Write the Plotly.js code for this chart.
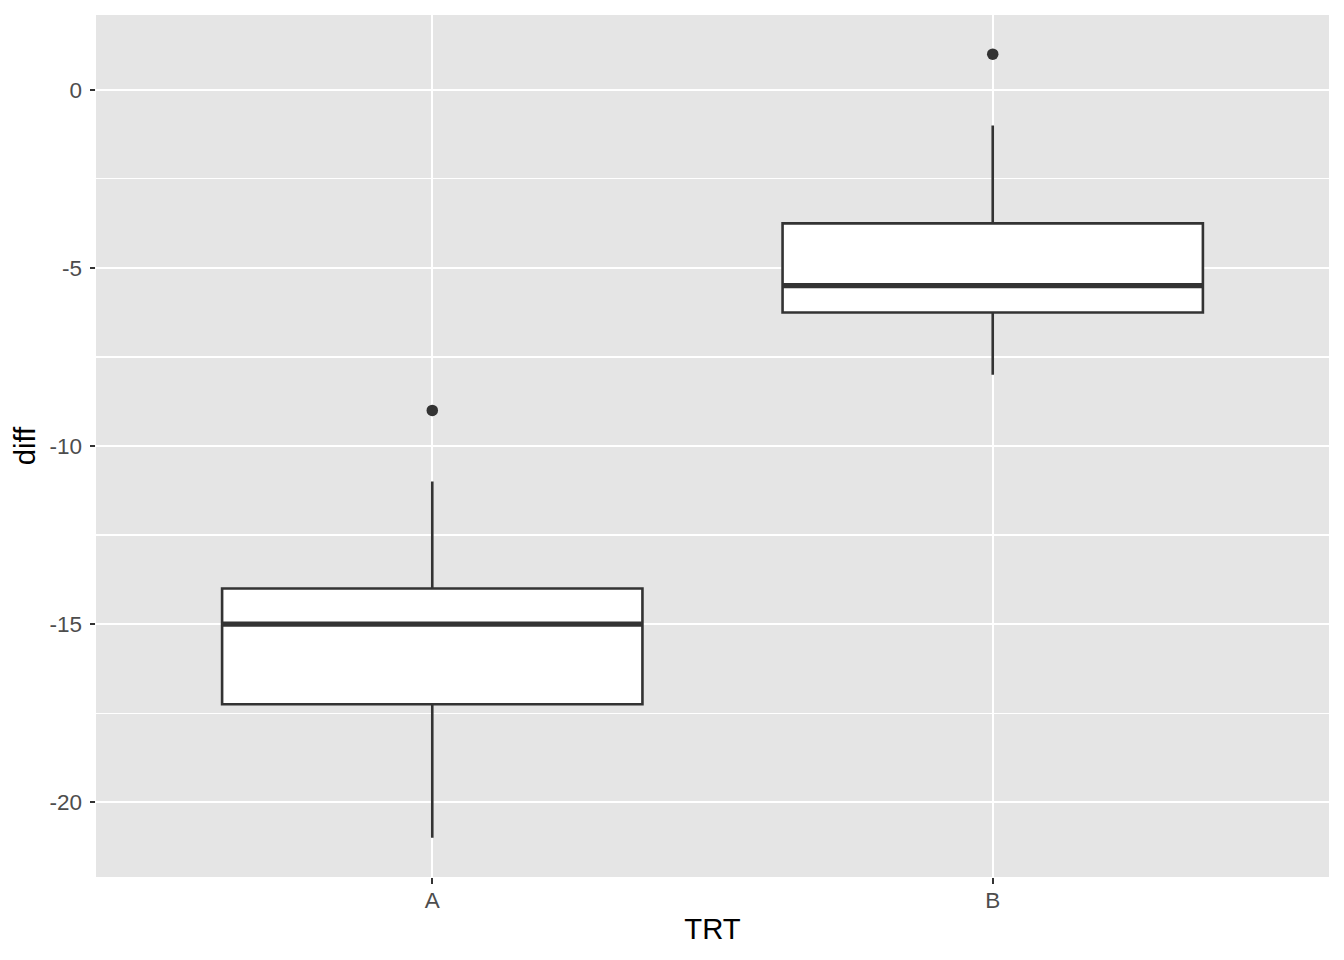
<!DOCTYPE html>
<html>
<head>
<meta charset="utf-8">
<script src="https://cdn.plot.ly/plotly-3.0.1.min.js"></script>
<style>html,body{margin:0;padding:0;background:#fff;}#chart{width:1344px;height:960px;}</style>
</head>
<body>
<div id="chart"></div>
<script>
// Data
const categories = ["A", "B"];
const lowerWhisker = [-21, -8];
const q1 = [-17.25, -6.25];
const median = [-15, -5.5];
const q3 = [-14, -3.75];
const upperWhisker = [-11, -1];
const outliers = [[-9], [1]];
const yTickVals = [0, -5, -10, -15, -20];
const yTickText = ["0", "-5", "-10", "-15", "-20"];
const yMinorVals = [-2.5, -7.5, -12.5, -17.5];

const pos = categories.map((c, i) => i);
const boxWidth = 0.75;
const lineColor = "#333333";

const traces = [];
traces.push({
  type: "box",
  x: pos,
  q1: q1,
  median: median,
  q3: q3,
  lowerfence: lowerWhisker,
  upperfence: upperWhisker,
  width: boxWidth,
  whiskerwidth: 0,
  fillcolor: "#FFFFFF",
  line: {color: lineColor, width: 2.6},
  boxpoints: false,
  hoverinfo: "skip",
  showlegend: false
});
// thicker median lines (ggplot fatten)
pos.forEach((p, i) => {
  traces.push({
    type: "scatter", mode: "lines",
    x: [p - boxWidth / 2, p + boxWidth / 2],
    y: [median[i], median[i]],
    line: {color: lineColor, width: 5.2},
    hoverinfo: "skip", showlegend: false
  });
});
// outliers
const ox = [], oy = [];
pos.forEach((p, i) => outliers[i].forEach(v => { ox.push(p); oy.push(v); }));
traces.push({
  type: "scatter", mode: "markers",
  x: ox, y: oy,
  marker: {color: lineColor, size: 11.5},
  hoverinfo: "skip", showlegend: false
});

const layout = {
  width: 1344, height: 960,
  margin: {l: 96, r: 15, t: 15, b: 83},
  paper_bgcolor: "#FFFFFF",
  plot_bgcolor: "#E5E5E5",
  font: {family: "Liberation Sans, Arial, sans-serif", color: "#4D4D4D", size: 22.5},
  showlegend: false,
  xaxis: {
    range: [-0.6, 1.6],
    tickmode: "array", tickvals: pos, ticktext: categories,
    showgrid: true, gridcolor: "#FFFFFF", gridwidth: 2.2,
    zeroline: false, showline: false,
    ticks: "outside", ticklen: 5.5, tickwidth: 2.2, tickcolor: lineColor,
    ticklabelstandoff: -3,
    tickfont: {size: 22.5, color: "#4D4D4D"},
    title: {text: "TRT", font: {size: 29.3, color: "#000000"}, standoff: 6}
  },
  yaxis: {
    range: [-22.1, 2.1],
    tickmode: "array", tickvals: yTickVals, ticktext: yTickText,
    showgrid: true, gridcolor: "#FFFFFF", gridwidth: 2.2,
    minor: {tickmode: "array", tickvals: yMinorVals, showgrid: true, gridcolor: "#FFFFFF", gridwidth: 1.1, ticks: ""},
    zeroline: false, showline: false,
    ticks: "outside", ticklen: 5.5, tickwidth: 2.2, tickcolor: lineColor,
    ticklabelstandoff: 3,
    tickfont: {size: 22.5, color: "#4D4D4D"},
    title: {text: "diff", font: {size: 29.3, color: "#000000"}, standoff: 5}
  }
};

Plotly.newPlot("chart", traces, layout, {staticPlot: true, displayModeBar: false});
</script>
</body>
</html>
